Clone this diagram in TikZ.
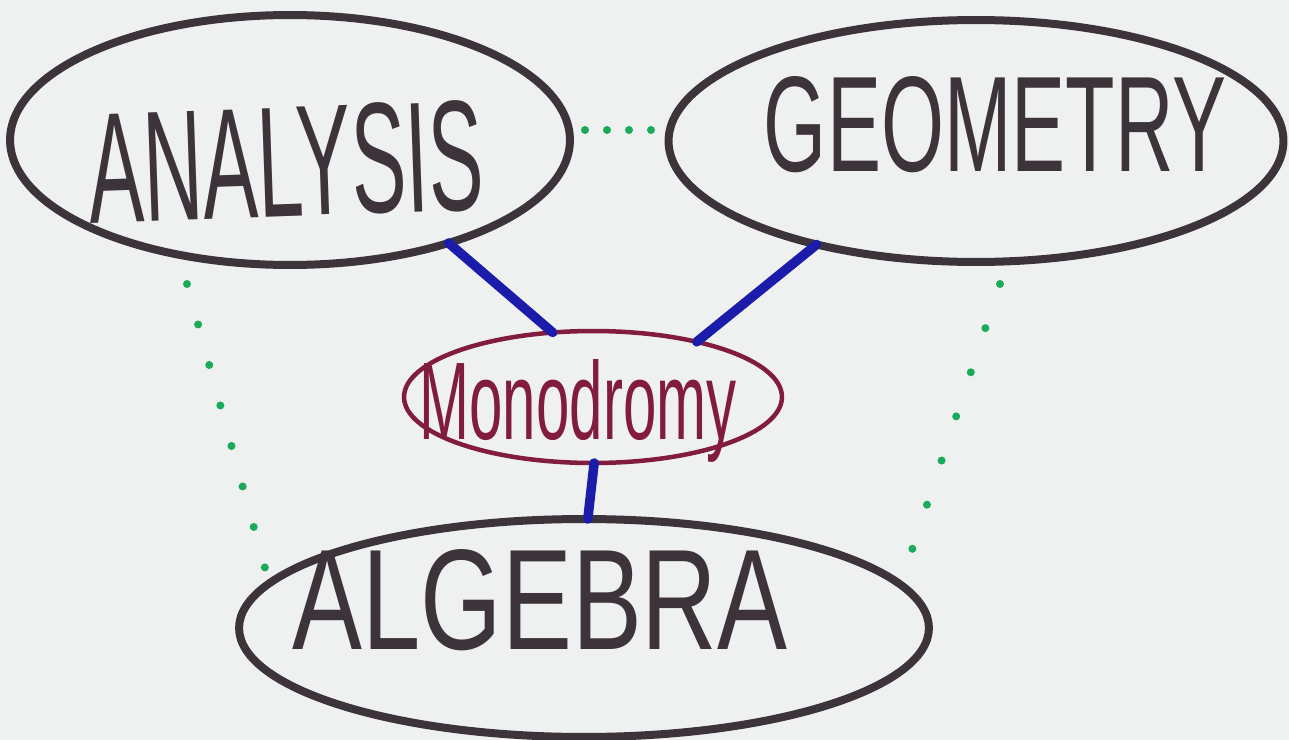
\documentclass[tikz,border=0pt]{standalone}
\usepackage{fontspec}
\usepackage{graphicx}
\setmainfont{Liberation Sans}
\usetikzlibrary{shapes.geometric}
\definecolor{bgc}{RGB}{238,241,240}
\definecolor{marker}{RGB}{60,52,58}
\definecolor{bluemk}{RGB}{28,28,170}
\definecolor{greenmk}{RGB}{25,170,90}
\definecolor{redmk}{RGB}{130,28,62}
\tikzset{
  bigell/.style={ellipse, draw=marker, line width=0.16cm, inner sep=0pt, outer sep=0pt},
  monoell/.style={ellipse, draw=redmk, line width=0.09cm, inner sep=0pt, outer sep=0pt},
  bigtext/.style={text=marker, inner sep=0pt},
  bluelink/.style={draw=bluemk, line width=0.19cm, line cap=round},
  dotlink/.style={draw=greenmk, line width=0.16cm, line cap=round},
}
\begin{document}
\begin{tikzpicture}[x=0.02cm,y=-0.02cm]
\fill[bgc] (0,0) rectangle (1289,740);
\useasboundingbox (0,0) rectangle (1289,740);
% ellipses
\node[bigell, minimum width=11.2cm, minimum height=5cm] (an) at (290,140) {};
\node[bigell, minimum width=12.3cm, minimum height=4.84cm] (ge) at (976,141) {};
\node[monoell, minimum width=7.56cm, minimum height=2.64cm] (mo) at (593,397) {};
\node[bigell, minimum width=13.8cm, minimum height=4.36cm] (al) at (584,628) {};
% texts
\node[bigtext, rotate=2] (tan) at (286,162) {\resizebox{7.9cm}{2.2cm}{ANALYSIS}};
\node[bigtext] (tge) at (995,125) {\resizebox{9.24cm}{1.9cm}{GEOMETRY}};
\node[bigtext] (tal) at (540,600) {\resizebox{9.9cm}{2.0cm}{ALGEBRA}};
\node[text=redmk, inner sep=0pt] (tmo) at (578,411) {\resizebox{6.34cm}{1.6cm}{Monodromy}};
% blue connectors
\draw[bluelink] (an.-33) -- (mo.122);
\draw[bluelink] (ge.213) -- (mo.28);
\draw[bluelink] (mo.-89) -- (al.88);
% green dotted connectors
\coordinate (d1) at (585,130);
\coordinate (d2) at (652,130);
\coordinate (d3) at (187,284);
\coordinate (d4) at (265,568);
\coordinate (d5) at (1000,284);
\coordinate (d6) at (908,562);
\draw[dotlink, dash pattern=on 0pt off 0.44cm] (d1) -- (d2);
\draw[dotlink, dash pattern=on 0pt off 0.84cm] (d3) -- (d4);
\draw[dotlink, dash pattern=on 0pt off 0.93cm] (d5) -- (d6);
\end{tikzpicture}
\end{document}
